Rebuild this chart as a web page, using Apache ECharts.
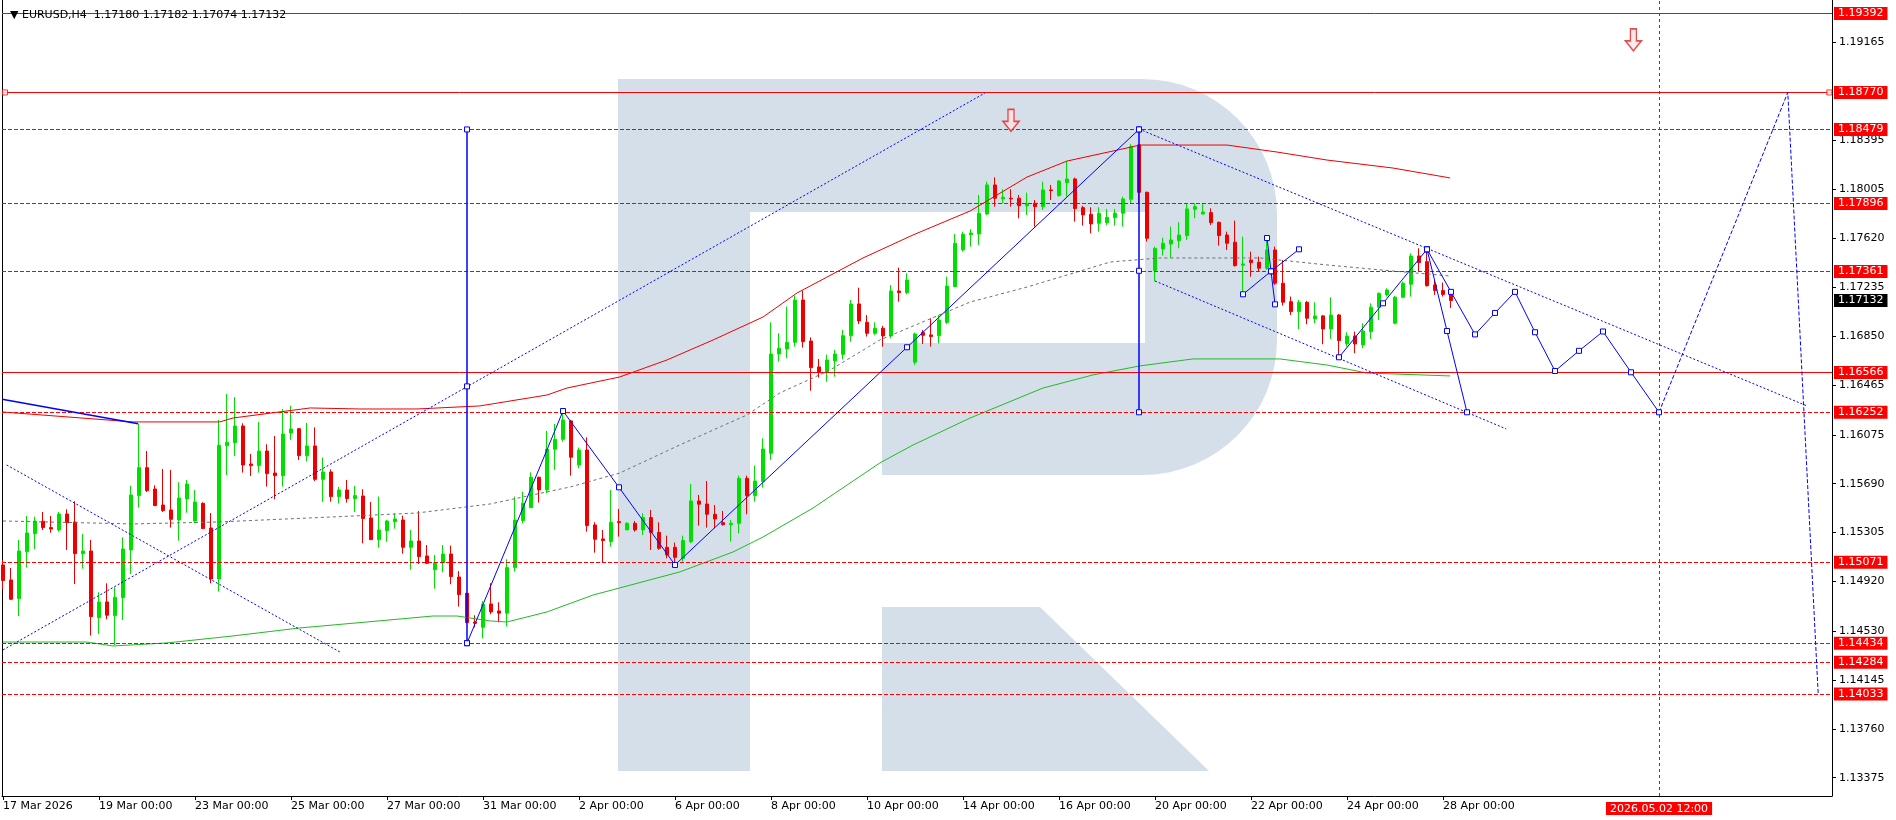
<!DOCTYPE html>
<html><head><meta charset="utf-8">
<script src="https://cdn.jsdelivr.net/npm/echarts@6/dist/echarts.min.js"></script>
<style>html,body{margin:0;padding:0;background:#fff}#c{width:1896px;height:820px}</style>
</head><body><div id="c"></div>
<script>
// H4 candles, index 0 = 17 Mar 2026 00:00 ; rows: [open, high, low, close]
const ohlc = [
[1.15050,1.15089,1.14858,1.14927],[1.14932,1.15026,1.14774,1.14780],[1.14785,1.15247,1.14648,1.15160],[1.15155,1.15436,1.15029,1.15302],
[1.15297,1.15430,1.15176,1.15394],[1.15394,1.15467,1.15325,1.15344],[1.15344,1.15436,1.15304,1.15333],[1.15325,1.15467,1.15312,1.15451],
[1.15451,1.15488,1.15168,1.15383],[1.15388,1.15551,1.14900,1.15139],[1.15139,1.15294,1.15021,1.15160],[1.15160,1.15247,1.14494,1.14643],
[1.14635,1.14835,1.14507,1.14759],[1.14759,1.14905,1.14622,1.14654],[1.14651,1.14874,1.14420,1.14795],[1.14793,1.15268,1.14617,1.15176],
[1.15168,1.15674,1.14979,1.15601],[1.15596,1.16160,1.15501,1.15816],[1.15816,1.15947,1.15625,1.15635],[1.15648,1.15677,1.15517,1.15517],
[1.15522,1.15806,1.15467,1.15478],[1.15483,1.15798,1.15344,1.15409],[1.15404,1.15701,1.15241,1.15577],[1.15570,1.15719,1.15462,1.15687],
[1.15396,1.15640,1.15378,1.15546],[1.15535,1.15543,1.15336,1.15336],[1.15341,1.15459,1.14905,1.14940],[1.14940,1.16191,1.14840,1.15992],
[1.15989,1.16396,1.15758,1.16016],[1.16013,1.16372,1.15908,1.16144],[1.16144,1.16165,1.15777,1.15837],[1.15845,1.15924,1.15751,1.15832],
[1.15832,1.16176,1.15777,1.15947],[1.15947,1.16000,1.15667,1.15769],[1.15774,1.16065,1.15567,1.15753],[1.15753,1.16278,1.15667,1.16081],
[1.16089,1.16304,1.16034,1.16121],[1.16123,1.16128,1.15876,1.15911],[1.15911,1.16168,1.15866,1.15987],[1.15987,1.16133,1.15711,1.15724],
[1.15724,1.15895,1.15546,1.15782],[1.15782,1.15803,1.15548,1.15588],[1.15588,1.15664,1.15533,1.15640],[1.15640,1.15719,1.15541,1.15572],
[1.15572,1.15672,1.15467,1.15596],[1.15593,1.15646,1.15220,1.15415],[1.15420,1.15546,1.15249,1.15249],[1.15249,1.15588,1.15186,1.15325],
[1.15320,1.15404,1.15233,1.15396],[1.15391,1.15457,1.15336,1.15412],[1.15404,1.15438,1.15139,1.15189],[1.15189,1.15325,1.15013,1.15239],
[1.15239,1.15475,1.15058,1.15115],[1.15121,1.15207,1.15058,1.15063],[1.15013,1.15129,1.14863,1.15068],[1.15066,1.15207,1.14992,1.15136],
[1.15136,1.15202,1.14898,1.14958],[1.14955,1.15002,1.14722,1.14816],[1.14827,1.14827,1.14591,1.14596],[1.14601,1.14654,1.14559,1.14591],
[1.14559,1.14767,1.14472,1.14740],[1.14743,1.14906,1.14662,1.14680],[1.14688,1.14756,1.14599,1.14670],[1.14670,1.15095,1.14565,1.15029],
[1.15029,1.15588,1.14998,1.15404],[1.15399,1.15627,1.15378,1.15536],[1.15501,1.15779,1.15501,1.15740],[1.15740,1.15745,1.15541,1.15641],
[1.15641,1.16105,1.15614,1.15963],[1.15961,1.16160,1.15798,1.16039],[1.16039,1.16270,1.16021,1.16192],[1.16184,1.16192,1.15753,1.15898],
[1.15837,1.15974,1.15811,1.15955],[1.15955,1.16055,1.15312,1.15360],[1.15365,1.15386,1.15147,1.15252],[1.15255,1.15325,1.15071,1.15242],
[1.15234,1.15641,1.15194,1.15386],[1.15391,1.15491,1.15273,1.15383],[1.15326,1.15386,1.15326,1.15378],[1.15378,1.15396,1.15312,1.15326],
[1.15326,1.15457,1.15286,1.15423],[1.15423,1.15483,1.15168,1.15305],[1.15307,1.15386,1.15168,1.15181],[1.15189,1.15281,1.15102,1.15129],
[1.15189,1.15226,1.15063,1.15110],[1.15102,1.15281,1.15076,1.15242],[1.15234,1.15688,1.15221,1.15554],[1.15554,1.15601,1.15360,1.15528],
[1.15530,1.15711,1.15344,1.15449],[1.15449,1.15522,1.15339,1.15412],[1.15383,1.15475,1.15360,1.15367],[1.15367,1.15404,1.15234,1.15378],
[1.15378,1.15753,1.15299,1.15732],[1.15732,1.15753,1.15449,1.15596],[1.15596,1.15832,1.15549,1.15711],[1.15706,1.16047,1.15659,1.15963],
[1.15929,1.16960,1.15877,1.16711],[1.16711,1.16874,1.16651,1.16756],[1.16751,1.17084,1.16677,1.16803],[1.16803,1.17170,1.16769,1.17136],
[1.17136,1.17210,1.16761,1.16808],[1.16813,1.16842,1.16422,1.16604],[1.16609,1.16672,1.16525,1.16567],[1.16572,1.16706,1.16493,1.16664],
[1.16656,1.16743,1.16533,1.16711],[1.16708,1.16900,1.16669,1.16855],[1.16855,1.17136,1.16808,1.17105],[1.17105,1.17233,1.16947,1.16971],
[1.16960,1.17018,1.16848,1.16874],[1.16874,1.16960,1.16861,1.16913],[1.16913,1.16932,1.16769,1.16853],[1.16855,1.17254,1.16834,1.17207],
[1.17207,1.17391,1.17123,1.17194],[1.17194,1.17346,1.17181,1.17294],[1.16646,1.16879,1.16625,1.16869],[1.16879,1.16900,1.16790,1.16858],
[1.16861,1.16992,1.16769,1.16848],[1.16855,1.17018,1.16795,1.16979],[1.16960,1.17320,1.16947,1.17246],[1.17241,1.17656,1.17241,1.17582],
[1.17530,1.17674,1.17517,1.17653],[1.17651,1.17693,1.17556,1.17664],[1.17656,1.17963,1.17570,1.17819],[1.17814,1.18068,1.17806,1.18042],
[1.18042,1.18102,1.17871,1.17937],[1.17932,1.18008,1.17898,1.17945],[1.17937,1.18008,1.17871,1.17932],[1.17937,1.17963,1.17779,1.17879],
[1.17879,1.17982,1.17806,1.17892],[1.17898,1.17924,1.17714,1.17871],[1.17871,1.18068,1.17845,1.18003],[1.18003,1.18042,1.17924,1.17997],
[1.17958,1.18081,1.17950,1.18073],[1.18060,1.18231,1.17950,1.18089],[1.18089,1.18100,1.17753,1.17856],[1.17863,1.17877,1.17722,1.17806],
[1.17811,1.17866,1.17661,1.17735],[1.17740,1.17866,1.17674,1.17819],[1.17745,1.17853,1.17727,1.17787],[1.17785,1.17853,1.17722,1.17819],
[1.17819,1.17950,1.17714,1.17932],[1.17929,1.18365,1.17898,1.18344],[1.18357,1.18365,1.17898,1.17984],[1.17984,1.17989,1.17596,1.17622],
[1.17368,1.17556,1.17281,1.17543],[1.17538,1.17627,1.17486,1.17583],[1.17577,1.17714,1.17465,1.17609],[1.17604,1.17748,1.17543,1.17648],
[1.17643,1.17898,1.17609,1.17853],[1.17850,1.17898,1.17779,1.17871],[1.17814,1.17898,1.17806,1.17829],[1.17824,1.17858,1.17727,1.17745],
[1.17748,1.17753,1.17564,1.17643],[1.17648,1.17674,1.17530,1.17583],[1.17591,1.17761,1.17399,1.17407],[1.17410,1.17635,1.17189,1.17420],
[1.17451,1.17517,1.17320,1.17430],[1.17433,1.17478,1.17360,1.17386],[1.17386,1.17622,1.17373,1.17530],[1.17530,1.17556,1.17255,1.17268],
[1.17268,1.17451,1.17092,1.17118],[1.17123,1.17163,1.17018,1.17045],[1.17045,1.17137,1.16908,1.17118],[1.17118,1.17129,1.16945,1.16992],
[1.16987,1.17118,1.16953,1.17011],[1.17011,1.17018,1.16788,1.16908],[1.16908,1.17158,1.16830,1.17018],[1.17018,1.17026,1.16690,1.16816],
[1.16790,1.16882,1.16769,1.16853],[1.16853,1.16887,1.16717,1.16790],[1.16782,1.16953,1.16756,1.16892],[1.16887,1.17110,1.16830,1.17079],
[1.17079,1.17194,1.16979,1.17189],[1.17176,1.17228,1.17163,1.17215],[1.16953,1.17168,1.16945,1.17158],[1.17158,1.17281,1.17150,1.17268],
[1.17260,1.17504,1.17163,1.17483],[1.17483,1.17543,1.17360,1.17430],[1.17438,1.17535,1.17242,1.17249],[1.17255,1.17294,1.17176,1.17210],
[1.17210,1.17273,1.17163,1.17180],[1.17180,1.17182,1.17074,1.17132]
];
const xTickIdx = [0,12,24,36,48,60,72,84,96,108,120,132,144,156,168,180];
const xTickLabels = ['17 Mar 2026','19 Mar 00:00','23 Mar 00:00','25 Mar 00:00','27 Mar 00:00','31 Mar 00:00','2 Apr 00:00','6 Apr 00:00','8 Apr 00:00','10 Apr 00:00','14 Apr 00:00','16 Apr 00:00','20 Apr 00:00','22 Apr 00:00','24 Apr 00:00','28 Apr 00:00'];
const yTicks = [1.13375,1.13760,1.14145,1.14530,1.14920,1.15305,1.15690,1.16075,1.16465,1.16850,1.17235,1.17620,1.18005,1.18395,1.19165];
const solidLevels = [1.19392,1.18770,1.16566];
const dashedLevels = [1.18479,1.17896,1.17361,1.16252,1.15071,1.14434,1.14284,1.14033];
const lastPrice = 1.17132;
const headerText = 'EURUSD,H4  1.17180 1.17182 1.17074 1.17132';
const forecastIdx = 207;
const forecastLabel = '2026.05.02 12:00';
// moving averages, [candle index, price]
const maRed = [[0,1.16254],[16.25,1.16176],[27.1,1.16176],[28.75,1.16207],[38.4,1.16286],[44.6,1.16278],[51.75,1.16278],[59.6,1.16302],[68,1.16388],[70.5,1.16443],[77.1,1.16530],[83,1.16664],[88.75,1.16821],[95,1.17002],[99.25,1.17191],[107.5,1.17467],[113.75,1.17648],[120.9,1.17837],[128,1.18104],[133,1.18230],[140.5,1.18333],[142.1,1.18356],[153,1.18356],[159.25,1.18301],[165.5,1.18238],[173.75,1.18175],[180.9,1.18097]];
const maGreen = [[0,1.14443],[10.5,1.14443],[13.75,1.14412],[20.5,1.14436],[28.75,1.14491],[37.1,1.14554],[45.5,1.14601],[53.75,1.14648],[56.75,1.14648],[60.9,1.14609],[63,1.14601],[68,1.14680],[73.75,1.14813],[84.6,1.14995],[91.25,1.15152],[95,1.15270],[101.25,1.15498],[109.6,1.15853],[113.75,1.15994],[120.9,1.16207],[130,1.16443],[136.25,1.16546],[142.1,1.16617],[148.75,1.16672],[159.6,1.16672],[165.5,1.16624],[170.5,1.16561],[180.9,1.16538]];
const maGray = [[0,1.15396],[16.25,1.15373],[26.75,1.15388],[41.25,1.15428],[51.75,1.15459],[60.9,1.15530],[70.9,1.15664],[77.1,1.15774],[84.6,1.15995],[93,1.16231],[97.1,1.16404],[103.4,1.16585],[109.6,1.16821],[120.9,1.17120],[128,1.17238],[138.4,1.17435],[144.6,1.17467],[157.1,1.17467],[165.5,1.17412],[173.75,1.17364],[180.9,1.17325]];
// drawn analysis lines, [candle index, price]
const blueLeft = [[-0.1,1.16355],[16.9,1.16162]];
const vLine1 = [[58,1.18479],[58,1.16456],[58,1.14434]];
const vLine2 = [[142,1.18479],[142,1.17366],[142,1.16252]];
const channelUp = [[0,1.14381],[122.75,1.18766]];
const channelDown = [[0.46,1.15837],[42.1,1.14365]];
const trendUpper = [[142,1.18482],[225.5,1.16302]];
const trendLower = [[144,1.17286],[187.9,1.16121]];
const wave1 = [[58,1.14434],[70,1.16262],[77,1.15661],[84,1.15050],[113,1.16764],[142,1.18479]];
const wave2a = [[155,1.17181],[158.5,1.17362],[162,1.17535]];
const wave2b = [[158,1.17624],[158.5,1.17362],[159,1.17102]];
const wave3 = [[167,1.16685],[172.5,1.17110],[178,1.17535]];
const dropPath = [[178,1.17535],[180.5,1.16892],[183,1.16252]];
const forecastPath = [[178,1.17535],[181,1.17200],[184,1.16865],[186.5,1.17034],[189,1.17200],[191.5,1.16882],[194,1.16577],[197,1.16736],[200,1.16888],[203.5,1.16567],[207,1.16252]];
const projection = [[207,1.16252],[223.1,1.18770],[226.9,1.14033]];
const arrows = [[126,1.18551],[203.8,1.19184]];
const levelMarks = [[0.25,1.18770],[228.3,1.18770]];

const FONT = 'DejaVu Sans';
const Y_MIN = 1.132308, Y_MAX = 1.194980;
const X_MIN = -0.125, X_MAX = 228.625;
const RED = '#ff0000', GREEN = '#00e000', BLUE = '#0000ff', WM = '#d5dfea';

const candleData = ohlc.map((r, i) => [i, r[0], r[3], r[2], r[1]]);
const tickLabelMap = {};
xTickIdx.forEach((v, k) => tickLabelMap[v] = xTickLabels[k]);

function priceLabel(text, bg, pos) {
  return { show: true, position: pos || 'end', distance: 2, formatter: text, color: '#fff',
    backgroundColor: bg, padding: [1, 4, 0, 4], fontFamily: FONT, fontSize: 11, lineHeight: 12 };
}
function levelLine(v, solid) {
  return { yAxis: v, lineStyle: { color: RED, width: 1, type: solid ? 'solid' : [4, 2] },
    label: priceLabel(v.toFixed(5), RED) };
}
const markData = [
  ...solidLevels.map(v => levelLine(v, true)),
  ...dashedLevels.map(v => levelLine(v, false)),
  { yAxis: lastPrice, lineStyle: { color: 'rgba(0,0,0,0)', width: 0 }, label: priceLabel(lastPrice.toFixed(5), '#000') },
  { xAxis: forecastIdx, lineStyle: { color: RED, width: 1, type: [3, 3] },
    label: Object.assign(priceLabel(forecastLabel, RED, 'start'), { distance: 6 }) }
];

function lineSeries(data, color, width, type, markers, z) {
  return {
    type: 'line', data: data, z: z || 4, silent: true, animation: false,
    showSymbol: !!markers, symbol: 'rect', symbolSize: 5,
    itemStyle: { color: '#fff', borderColor: color, borderWidth: 1 },
    lineStyle: { color: color, width: width, type: type || 'solid' },
    emphasis: { disabled: true }
  };
}

const chart = echarts.init(document.getElementById('c'), null, { renderer: 'canvas' });
chart.setOption({
  backgroundColor: '#fff',
  animation: false,
  title: { text: '\u25BC ' + headerText, left: 5, top: 5,
    textStyle: { fontFamily: FONT, fontSize: 11, fontWeight: 'normal', color: '#000' } },
  grid: { left: 2, right: 64, top: 0, bottom: 24 },
  graphic: [
    { type: 'rect', z: -10, silent: true, shape: { x: 618, y: 79, width: 659, height: 396, r: [0, 135, 135, 0] }, style: { fill: WM } },
    { type: 'rect', z: -9, silent: true, shape: { x: 750, y: 212, width: 395, height: 131 }, style: { fill: '#fff' } },
    { type: 'rect', z: -9, silent: true, shape: { x: 750, y: 343, width: 132, height: 132 }, style: { fill: '#fff' } },
    { type: 'rect', z: -8, silent: true, shape: { x: 618, y: 79, width: 132, height: 692 }, style: { fill: WM } },
    { type: 'polygon', z: -8, silent: true, shape: { points: [[882, 607], [1040, 607], [1209, 771], [882, 771]] }, style: { fill: WM } }
  ],
  xAxis: {
    type: 'value', min: X_MIN, max: X_MAX,
    splitLine: { show: false },
    axisLine: { show: true, onZero: false, lineStyle: { color: '#000', width: 1 } },
    axisTick: { show: true, customValues: xTickIdx, length: 4, lineStyle: { color: '#000' } },
    axisLabel: { customValues: xTickIdx, formatter: v => tickLabelMap[v] || '', align: 'left',
      margin: 5, color: '#000', fontFamily: FONT, fontSize: 11 }
  },
  yAxis: [
    { type: 'value', position: 'right', min: Y_MIN, max: Y_MAX,
      splitLine: { show: false },
      axisLine: { show: true, onZero: false, lineStyle: { color: '#000', width: 1 } },
      axisTick: { show: true, customValues: yTicks, length: 4, lineStyle: { color: '#000' } },
      axisLabel: { customValues: yTicks, formatter: v => v.toFixed(5), margin: 7,
        color: '#000', fontFamily: FONT, fontSize: 11 } },
    { type: 'value', position: 'left', min: Y_MIN, max: Y_MAX,
      splitLine: { show: false }, axisTick: { show: false }, axisLabel: { show: false },
      axisLine: { show: true, onZero: false, lineStyle: { color: '#000', width: 1 } } }
  ],
  series: [
    {
      type: 'candlestick', data: candleData, encode: { x: 0, y: [1, 2, 3, 4] },
      barWidth: 4, z: 3, silent: true, animation: false,
      itemStyle: { color: GREEN, color0: '#ee0000', borderColor: GREEN, borderColor0: '#ee0000', borderWidth: 1 },
      markLine: { symbol: ['none', 'none'], silent: true, animation: false, precision: 5, data: markData }
    },
    lineSeries(maRed, '#ee0000', 1, 'solid', false, 4),
    lineSeries(maGreen, '#22bb22', 1, 'solid', false, 4),
    lineSeries(maGray, '#707070', 1, [3, 3], false, 4),
    lineSeries(blueLeft, BLUE, 1.5, 'solid', false, 5),
    lineSeries(channelUp, BLUE, 1, [2, 2], false, 5),
    lineSeries(channelDown, BLUE, 1, [2, 2], false, 5),
    lineSeries(trendUpper, BLUE, 1, [2, 2], false, 5),
    lineSeries(trendLower, BLUE, 1, [2, 2], false, 5),
    lineSeries(projection, BLUE, 1, [4, 2], false, 5),
    lineSeries(vLine1, BLUE, 1.5, 'solid', true, 6),
    lineSeries(vLine2, BLUE, 1.5, 'solid', true, 6),
    lineSeries(wave1, BLUE, 1, 'solid', true, 6),
    lineSeries(wave2a, BLUE, 1, 'solid', true, 6),
    lineSeries(wave2b, BLUE, 1, 'solid', true, 6),
    lineSeries(wave3, BLUE, 1, 'solid', true, 6),
    lineSeries(dropPath, BLUE, 1, 'solid', true, 6),
    lineSeries(forecastPath, BLUE, 1, 'solid', true, 6),
    {
      type: 'scatter', data: arrows, z: 7, silent: true, animation: false,
      symbol: 'path://M5,0 L11,0 L11,12 L16,12 L8,22 L0,12 L5,12 Z', symbolSize: [16, 22],
      itemStyle: { color: '#ffe4e4', borderColor: '#e02020', borderWidth: 1.5 }
    },
    {
      type: 'scatter', data: levelMarks, z: 7, silent: true, animation: false,
      symbol: 'rect', symbolSize: 5, itemStyle: { color: '#fff', borderColor: RED, borderWidth: 1 }
    }
  ]
});
</script>
</body></html>
